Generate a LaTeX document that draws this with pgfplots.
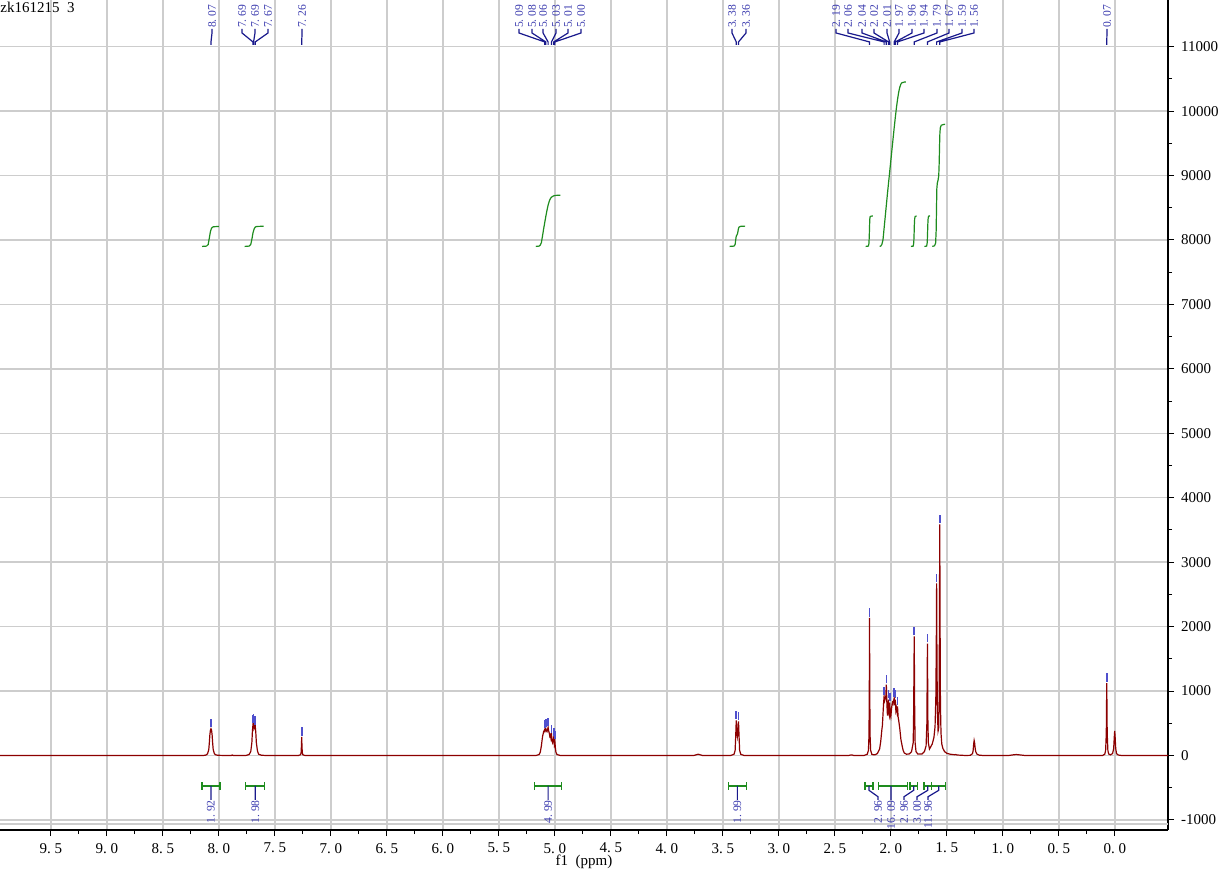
\documentclass[border=0pt]{standalone}
\usepackage{pgfplots}
\pgfplotsset{compat=1.18}
\usepackage{fontspec}
\setmainfont{Liberation Serif}
\definecolor{spec}{RGB}{140,0,0}
\definecolor{integ}{RGB}{30,140,30}
\definecolor{lab}{RGB}{60,60,175}
\definecolor{lead}{RGB}{25,25,140}
\definecolor{pkm}{RGB}{80,80,205}
\definecolor{gridc}{RGB}{205,205,205}
\newcommand{\pl}[2]{\node[rotate=90,anchor=west,inner sep=0pt,text=lab,font=\fontsize{5.8}{6}\selectfont] at (axis cs:#1,11285) {#2};}
\newcommand{\il}[2]{\node[rotate=90,anchor=east,inner sep=0pt,text=lab,font=\fontsize{5.8}{6}\selectfont] at (axis cs:#1,-690) {#2};}
\begin{document}
\begin{tikzpicture}
\begin{axis}[
  at={(0,0)}, anchor=south west,
  scale only axis, width=584pt, height=415pt,
  x dir=reverse, xmin=-0.475, xmax=9.954, ymin=-1156, ymax=11724,
  axis x line=bottom, axis y line=right,
  axis line style={-, black, line width=0.6pt},
  xtick={0,0.5,1,1.5,2,2.5,3,3.5,4,4.5,5,5.5,6,6.5,7,7.5,8,8.5,9,9.5},
  xticklabels={0.\ 0,0.\ 5,1.\ 0,1.\ 5,2.\ 0,2.\ 5,3.\ 0,3.\ 5,4.\ 0,4.\ 5,5.\ 0,5.\ 5,6.\ 0,6.\ 5,7.\ 0,7.\ 5,8.\ 0,8.\ 5,9.\ 0,9.\ 5},
  minor x tick num=1,
  ytick={-1000,0,1000,2000,3000,4000,5000,6000,7000,8000,9000,10000,11000},
  scaled y ticks=false,
  minor y tick num=1,
  grid=major, major grid style={gridc, line width=0.7pt},
  tick style={black, line width=0.5pt},
  tick align=outside, major tick length=3pt, minor tick length=2pt,
  /pgf/number format/assume math mode=true,
  /pgf/number format/1000 sep={},
  ticklabel style={font=\fontsize{7.5}{9}\selectfont},
  xlabel={f1\ \ (ppm)},
  xlabel style={font=\fontsize{7.5}{9}\selectfont, at={(axis description cs:0.5,0)}, anchor=center, yshift=-16pt},
  unbounded coords=jump,
]
% extra grid line
\addplot[gridc, line width=0.7pt, forget plot] coordinates {(9.954,-1065)(-0.475,-1065)};
% spectrum
\addplot[spec, line width=0.6pt, no markers] coordinates {
(9.954,0)(8.14,0)(8.12,5)(8.11,12)(8.10,30)(8.09,90)(8.085,190)(8.08,320)(8.075,395)(8.07,415)(8.065,395)(8.06,320)(8.055,190)(8.05,90)(8.04,30)(8.03,12)(8.01,4)(7.95,0)(7.89,0)(7.88,8)(7.87,0)
(7.76,0)(7.73,15)(7.715,60)(7.705,200)(7.70,380)(7.695,480)(7.692,450)(7.69,490)(7.685,440)(7.68,420)(7.675,460)(7.67,360)(7.665,200)(7.655,70)(7.645,20)(7.62,5)(7.58,0)
(7.29,0)(7.27,12)(7.265,50)(7.262,170)(7.26,290)(7.258,170)(7.255,50)(7.25,12)(7.23,0)
(5.17,0)(5.14,15)(5.13,50)(5.12,150)(5.11,290)(5.10,370)(5.095,385)(5.09,405)(5.087,380)(5.08,415)(5.075,380)(5.07,370)(5.065,400)(5.06,435)(5.055,380)(5.05,350)(5.045,300)(5.04,320)(5.035,270)(5.03,330)(5.025,230)(5.02,200)(5.015,240)(5.01,280)(5.005,180)(5.0,230)(4.995,120)(4.99,50)(4.98,15)(4.95,0)
(3.76,0)(3.73,15)(3.72,20)(3.71,15)(3.68,0)
(3.43,0)(3.40,20)(3.39,80)(3.385,300)(3.38,545)(3.375,380)(3.37,300)(3.365,380)(3.36,530)(3.355,300)(3.35,80)(3.34,20)(3.31,0)
(2.38,0)(2.35,10)(2.33,0)
(2.24,0)(2.21,20)(2.20,80)(2.195,300)(2.192,1000)(2.19,2135)(2.188,1000)(2.185,300)(2.18,80)(2.17,20)(2.155,10)(2.14,12)(2.12,30)(2.10,100)(2.09,220)(2.08,400)(2.075,470)(2.065,800)(2.06,917)(2.055,850)(2.05,880)(2.045,900)(2.04,1100)(2.035,800)(2.03,620)(2.025,800)(2.02,865)(2.017,650)(2.013,620)(2.01,820)(2.005,640)(2.0,600)(1.995,700)(1.99,780)(1.985,820)(1.98,800)(1.975,850)(1.97,890)(1.965,780)(1.96,865)(1.955,700)(1.95,740)(1.945,680)(1.94,760)(1.935,600)(1.93,550)(1.92,420)(1.91,250)(1.90,160)(1.89,80)(1.88,40)(1.86,20)(1.835,25)(1.815,60)
(1.80,200)(1.796,700)(1.791,1850)(1.787,700)(1.783,200)(1.775,60)(1.76,25)(1.72,25)(1.70,60)(1.685,150)(1.678,500)(1.673,1735)(1.669,550)(1.665,200)(1.655,100)(1.645,130)(1.63,180)(1.615,280)(1.605,450)(1.598,900)(1.594,1700)(1.591,2670)(1.588,1500)(1.584,650)(1.578,380)(1.573,420)(1.569,800)(1.566,2000)(1.563,3585)(1.560,2000)(1.557,800)(1.552,350)(1.545,180)(1.535,110)(1.52,60)(1.50,35)(1.47,20)(1.43,12)(1.42,15)(1.41,8)(1.38,5)(1.33,0)
(1.29,3)(1.27,30)(1.265,80)(1.26,180)(1.256,233)(1.252,200)(1.246,100)(1.24,50)(1.23,20)(1.21,5)(1.17,0)(0.95,0)(0.90,12)(0.88,15)(0.85,10)(0.80,0)
(0.11,0)(0.09,20)(0.082,80)(0.076,350)(0.072,1125)(0.068,350)(0.062,80)(0.055,25)(0.04,10)(0.02,30)(0.01,110)(0.005,280)(0.001,383)(-0.003,280)(-0.008,110)(-0.015,30)(-0.03,8)(-0.06,0)(-0.475,0)
};
% peak markers
\addplot[pkm, line width=0.8pt, no markers] coordinates {
(8.07,435)(8.07,565)(8.07,nan)
(7.695,500)(7.695,630)(7.695,nan)
(7.69,510)(7.69,640)(7.69,nan)
(7.675,480)(7.675,610)(7.675,nan)
(7.26,310)(7.26,440)(7.26,nan)
(5.09,425)(5.09,555)(5.09,nan)
(5.08,435)(5.08,565)(5.08,nan)
(5.06,455)(5.06,585)(5.06,nan)
(5.03,350)(5.03,480)(5.03,nan)
(5.01,300)(5.01,430)(5.01,nan)
(5.00,250)(5.00,380)(5.00,nan)
(3.38,565)(3.38,695)(3.38,nan)
(3.36,550)(3.36,680)(3.36,nan)
(2.19,2155)(2.19,2285)(2.19,nan)
(2.06,937)(2.06,1067)(2.06,nan)
(2.04,1120)(2.04,1250)(2.04,nan)
(2.02,885)(2.02,1015)(2.02,nan)
(2.01,840)(2.01,970)(2.01,nan)
(1.97,910)(1.97,1040)(1.97,nan)
(1.96,885)(1.96,1015)(1.96,nan)
(1.94,780)(1.94,910)(1.94,nan)
(1.791,1870)(1.791,2000)(1.791,nan)
(1.673,1755)(1.673,1885)(1.673,nan)
(1.591,2690)(1.591,2820)(1.591,nan)
(1.563,3605)(1.563,3735)(1.563,nan)
(0.072,1145)(0.072,1275)(0.072,nan)
};
% top leaders
\addplot[lead, line width=0.6pt, no markers] coordinates {
(8.061,11274)(8.061,11212)(8.07,11073)(8.07,11026)(8.07,nan)
(7.793,11274)(7.793,11212)(7.695,11073)(7.695,11026)(7.695,nan)
(7.677,11274)(7.677,11212)(7.69,11073)(7.69,11026)(7.69,nan)
(7.561,11274)(7.561,11212)(7.675,11073)(7.675,11026)(7.675,nan)
(7.257,11274)(7.257,11212)(7.26,11073)(7.26,11026)(7.26,nan)
(5.320,11274)(5.320,11212)(5.09,11073)(5.09,11026)(5.09,nan)
(5.204,11274)(5.204,11212)(5.08,11073)(5.08,11026)(5.08,nan)
(5.105,11274)(5.105,11212)(5.06,11073)(5.06,11026)(5.06,nan)
(4.989,11274)(4.989,11212)(5.03,11073)(5.03,11026)(5.03,nan)
(4.882,11274)(4.882,11212)(5.01,11073)(5.01,11026)(5.01,nan)
(4.766,11274)(4.766,11212)(5.00,11073)(5.00,11026)(5.00,nan)
(3.418,11274)(3.418,11212)(3.38,11073)(3.38,11026)(3.38,nan)
(3.293,11274)(3.293,11212)(3.36,11073)(3.36,11026)(3.36,nan)
(2.489,11274)(2.489,11212)(2.19,11073)(2.19,11026)(2.19,nan)
(2.382,11274)(2.382,11212)(2.06,11073)(2.06,11026)(2.06,nan)
(2.257,11274)(2.257,11212)(2.04,11073)(2.04,11026)(2.04,nan)
(2.150,11274)(2.150,11212)(2.02,11073)(2.02,11026)(2.02,nan)
(2.034,11274)(2.034,11212)(2.01,11073)(2.01,11026)(2.01,nan)
(1.927,11274)(1.927,11212)(1.97,11073)(1.97,11026)(1.97,nan)
(1.811,11274)(1.811,11212)(1.96,11073)(1.96,11026)(1.96,nan)
(1.704,11274)(1.704,11212)(1.94,11073)(1.94,11026)(1.94,nan)
(1.588,11274)(1.588,11212)(1.791,11073)(1.791,11026)(1.791,nan)
(1.480,11274)(1.480,11212)(1.673,11073)(1.673,11026)(1.673,nan)
(1.364,11274)(1.364,11212)(1.591,11073)(1.591,11026)(1.591,nan)
(1.257,11274)(1.257,11212)(1.563,11073)(1.563,11026)(1.563,nan)
(0.070,11274)(0.070,11212)(0.072,11073)(0.072,11026)(0.072,nan)
};
\pl{8.061}{8.\ 07}
\pl{7.793}{7.\ 69}\pl{7.677}{7.\ 69}\pl{7.561}{7.\ 67}
\pl{7.257}{7.\ 26}
\pl{5.320}{5.\ 09}\pl{5.204}{5.\ 08}\pl{5.105}{5.\ 06}\pl{4.989}{5.\ 03}\pl{4.882}{5.\ 01}\pl{4.766}{5.\ 00}
\pl{3.418}{3.\ 38}\pl{3.293}{3.\ 36}
\pl{2.489}{2.\ 19}\pl{2.382}{2.\ 06}\pl{2.257}{2.\ 04}\pl{2.150}{2.\ 02}\pl{2.034}{2.\ 01}\pl{1.927}{1.\ 97}\pl{1.811}{1.\ 96}\pl{1.704}{1.\ 94}\pl{1.588}{1.\ 79}\pl{1.480}{1.\ 67}\pl{1.364}{1.\ 59}\pl{1.257}{1.\ 56}
\pl{0.070}{0.\ 07}
% integral curves
\addplot[integ, line width=0.6pt, no markers] coordinates {
(8.15,7900)(8.11,7905)(8.095,7930)(8.085,8030)(8.075,8130)(8.065,8185)(8.05,8205)(8.0,8210)(8.0,nan)
(7.77,7900)(7.73,7905)(7.715,7930)(7.705,8010)(7.695,8110)(7.685,8170)(7.675,8200)(7.66,8210)(7.6,8213)(7.6,nan)
(5.17,7900)(5.14,7905)(5.13,7920)(5.12,7960)(5.11,8060)(5.10,8170)(5.09,8270)(5.08,8370)(5.07,8460)(5.06,8540)(5.05,8600)(5.04,8640)(5.03,8665)(5.01,8685)(4.99,8692)(4.95,8695)(4.95,nan)
(3.44,7900)(3.40,7905)(3.39,7930)(3.385,8000)(3.38,8060)(3.37,8090)(3.365,8130)(3.36,8180)(3.355,8200)(3.34,8212)(3.30,8215)(3.30,nan)
(2.225,7900)(2.20,7905)(2.195,7950)(2.192,8080)(2.19,8200)(2.188,8320)(2.185,8360)(2.175,8370)(2.16,8372)(2.16,nan)
(2.10,7900)(2.09,7905)(2.08,7930)(2.07,8000)(2.06,8180)(2.05,8360)(2.04,8540)(2.03,8720)(2.02,8890)(2.01,9060)(2.00,9230)(1.99,9400)(1.98,9570)(1.97,9740)(1.96,9900)(1.95,10050)(1.94,10180)(1.93,10290)(1.92,10370)(1.91,10420)(1.90,10440)(1.88,10450)(1.865,10452)(1.865,nan)
(1.82,7900)(1.80,7905)(1.795,7960)(1.792,8100)(1.79,8230)(1.787,8330)(1.783,8365)(1.77,8372)(1.77,nan)
(1.70,7900)(1.68,7905)(1.675,7960)(1.672,8100)(1.67,8230)(1.667,8330)(1.663,8368)(1.65,8375)(1.65,nan)
(1.63,7900)(1.61,7910)(1.60,7950)(1.595,8150)(1.592,8500)(1.589,8800)(1.585,8880)(1.578,8930)(1.572,9000)(1.568,9200)(1.565,9450)(1.562,9650)(1.558,9740)(1.55,9780)(1.53,9792)(1.515,9795)
};
% integral bars
\addplot[integ, line width=0.6pt, no markers] coordinates {
(8.15,-473)(7.99,-473)(7.99,nan)(8.15,-413)(8.15,-533)(8.15,nan)(7.99,-413)(7.99,-533)(7.99,nan)
(7.76,-473)(7.59,-473)(7.59,nan)(7.76,-413)(7.76,-533)(7.76,nan)(7.59,-413)(7.59,-533)(7.59,nan)
(5.18,-473)(4.94,-473)(4.94,nan)(5.18,-413)(5.18,-533)(5.18,nan)(4.94,-413)(4.94,-533)(4.94,nan)
(3.45,-473)(3.29,-473)(3.29,nan)(3.45,-413)(3.45,-533)(3.45,nan)(3.29,-413)(3.29,-533)(3.29,nan)
(2.23,-473)(2.16,-473)(2.16,nan)(2.23,-413)(2.23,-533)(2.23,nan)(2.16,-413)(2.16,-533)(2.16,nan)
(2.113,-473)(1.853,-473)(1.853,nan)(2.113,-413)(2.113,-533)(2.113,nan)(1.853,-413)(1.853,-533)(1.853,nan)
(1.829,-473)(1.763,-473)(1.763,nan)(1.829,-413)(1.829,-533)(1.829,nan)(1.763,-413)(1.763,-533)(1.763,nan)
(1.704,-473)(1.635,-473)(1.635,nan)(1.704,-413)(1.704,-533)(1.704,nan)(1.635,-413)(1.635,-533)(1.635,nan)
(1.635,-473)(1.51,-473)(1.51,nan)(1.635,-413)(1.635,-533)(1.635,nan)(1.51,-413)(1.51,-533)(1.51,nan)
};
% bottom leaders
\addplot[lead, line width=0.6pt, no markers] coordinates {
(8.07,-473)(8.07,-690)(8.07,nan)
(7.675,-473)(7.675,-690)(7.675,nan)
(5.06,-473)(5.06,-690)(5.06,nan)
(3.37,-473)(3.37,-690)(3.37,nan)
(2.195,-473)(2.195,-540)(2.114,-640)(2.114,-690)(2.114,nan)
(1.998,-473)(1.998,-690)(1.998,nan)
(1.796,-473)(1.796,-540)(1.882,-640)(1.882,-690)(1.882,nan)
(1.670,-473)(1.670,-540)(1.766,-640)(1.766,-690)(1.766,nan)
(1.572,-473)(1.572,-540)(1.668,-640)(1.668,-690)(1.668,nan)
};
\il{8.07}{1.\ 92}\il{7.675}{1.\ 98}\il{5.06}{4.\ 99}\il{3.37}{1.\ 99}
\il{2.114}{2.\ 96}\il{1.998}{16.\ 09}\il{1.882}{2.\ 96}\il{1.766}{3.\ 00}\il{1.668}{11.\ 96}
\end{axis}
\node[anchor=north west, inner sep=0pt, font=\fontsize{7.5}{9}\selectfont] at (0,414pt) {zk161215\ \ 3};
\pgfresetboundingbox
\path (0,-24pt) rectangle (614.5pt,415pt);
\end{tikzpicture}
\end{document}
